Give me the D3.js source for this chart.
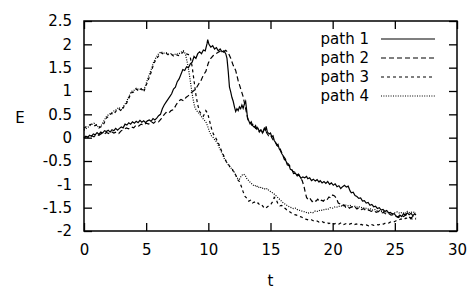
<!DOCTYPE html>
<html>
<head>
<meta charset="utf-8">
<script src="https://cdn.jsdelivr.net/npm/d3@7"></script>
<style>
  body { margin: 0; background: #fff; }
  text { font-family: "DejaVu Sans", Arial, sans-serif; }
</style>
</head>
<body>
<div id="chart"></div>
<script>
"use strict"

// data: [t, E]
const path1 = [[0,0.00],[0.15,0.03],[0.3,0.01],[0.45,0.05],[0.6,0.03],[0.75,0.08],[0.9,0.06],[1.05,0.11],[1.2,0.07],[1.35,0.12],[1.5,0.10],[1.65,0.15],[1.8,0.13],[1.95,0.16],[2.1,0.12],[2.25,0.17],[2.4,0.15],[2.55,0.20],[2.7,0.16],[2.85,0.20],[3,0.23],[3.15,0.21],[3.3,0.29],[3.45,0.27],[3.6,0.32],[3.75,0.29],[3.9,0.34],[4.05,0.31],[4.2,0.35],[4.35,0.32],[4.5,0.37],[4.65,0.33],[4.8,0.36],[4.95,0.32],[5.1,0.36],[5.25,0.38],[5.4,0.35],[5.55,0.41],[5.7,0.38],[5.85,0.42],[6,0.47],[6.15,0.50],[6.3,0.62],[6.45,0.70],[6.6,0.76],[6.75,0.82],[6.9,0.88],[7.05,0.94],[7.2,1.04],[7.35,1.08],[7.5,1.20],[7.65,1.26],[7.8,1.36],[7.95,1.46],[8.1,1.44],[8.25,1.52],[8.4,1.50],[8.55,1.58],[8.7,1.62],[8.85,1.74],[9,1.70],[9.15,1.80],[9.3,1.84],[9.45,1.80],[9.6,1.88],[9.75,1.86],[9.9,2.02],[9.95,2.10],[10.05,2.00],[10.2,1.94],[10.35,1.97],[10.5,1.90],[10.65,1.93],[10.8,1.86],[10.95,1.90],[11.1,1.84],[11.25,1.86],[11.4,1.80],[11.5,1.70],[11.6,1.42],[11.7,1.08],[11.8,0.98],[11.9,0.86],[12,0.78],[12.1,0.66],[12.2,0.56],[12.3,0.62],[12.4,0.58],[12.5,0.66],[12.6,0.62],[12.7,0.70],[12.8,0.63],[12.9,0.72],[13,0.78],[13.1,0.55],[13.15,0.42],[13.25,0.36],[13.35,0.30],[13.45,0.34],[13.55,0.26],[13.7,0.22],[13.8,0.26],[13.9,0.18],[14,0.20],[14.1,0.14],[14.25,0.16],[14.35,0.10],[14.5,0.20],[14.6,0.16],[14.65,0.24],[14.75,0.12],[14.9,0.08],[15,0.10],[15.1,0.02],[15.2,0.04],[15.3,-0.06],[15.4,-0.10],[15.5,-0.16],[15.6,-0.14],[15.7,-0.24],[15.8,-0.28],[15.9,-0.34],[16,-0.38],[16.1,-0.46],[16.25,-0.50],[16.35,-0.58],[16.5,-0.60],[16.6,-0.68],[16.75,-0.70],[16.85,-0.77],[17,-0.76],[17.15,-0.82],[17.3,-0.80],[17.45,-0.87],[17.6,-0.84],[17.75,-0.86],[17.9,-0.83],[18,-0.88],[18.15,-0.86],[18.3,-0.92],[18.45,-0.89],[18.6,-0.93],[18.75,-0.90],[18.9,-0.95],[19,-0.92],[19.15,-0.97],[19.3,-0.94],[19.45,-0.98],[19.6,-0.94],[19.75,-1.00],[19.9,-0.97],[20.05,-1.02],[20.2,-0.99],[20.35,-1.05],[20.5,-1.03],[20.65,-1.09],[20.8,-1.05],[20.95,-1.02],[21.1,-1.06],[21.25,-1.04],[21.4,-1.14],[21.5,-1.18],[21.65,-1.17],[21.8,-1.24],[21.95,-1.26],[22.1,-1.30],[22.25,-1.29],[22.4,-1.36],[22.55,-1.35],[22.7,-1.40],[22.85,-1.39],[23,-1.45],[23.15,-1.43],[23.3,-1.48],[23.45,-1.47],[23.6,-1.52],[23.75,-1.50],[23.9,-1.55],[24.05,-1.54],[24.2,-1.58],[24.35,-1.56],[24.5,-1.61],[24.65,-1.60],[24.8,-1.64],[24.95,-1.63],[25.1,-1.68],[25.25,-1.70],[25.4,-1.66],[25.55,-1.69],[25.7,-1.63],[25.85,-1.66],[26,-1.61],[26.15,-1.65],[26.3,-1.62],[26.45,-1.67],[26.6,-1.63],[26.7,-1.66]];

const path2 = [[0,0.00],[0.2,0.02],[0.4,0.00],[0.6,0.04],[0.8,0.02],[1,0.07],[1.2,0.05],[1.4,0.09],[1.6,0.07],[1.8,0.11],[2,0.09],[2.2,0.13],[2.4,0.10],[2.6,0.12],[2.8,0.09],[3,0.15],[3.2,0.17],[3.4,0.21],[3.6,0.19],[3.8,0.23],[4,0.21],[4.2,0.27],[4.4,0.25],[4.6,0.29],[4.8,0.27],[5,0.31],[5.2,0.29],[5.4,0.34],[5.6,0.31],[5.8,0.36],[6,0.34],[6.2,0.40],[6.4,0.48],[6.6,0.54],[6.8,0.52],[7,0.58],[7.2,0.60],[7.4,0.70],[7.6,0.78],[7.8,0.82],[8,0.79],[8.2,0.86],[8.4,0.90],[8.6,0.96],[8.8,1.00],[9,1.05],[9.2,1.14],[9.4,1.22],[9.6,1.34],[9.8,1.42],[10,1.60],[10.2,1.70],[10.4,1.76],[10.6,1.80],[10.8,1.83],[11,1.86],[11.2,1.83],[11.4,1.87],[11.6,1.82],[11.8,1.70],[12,1.55],[12.2,1.44],[12.4,1.22],[12.6,1.05],[12.8,0.88],[13,0.62],[13.2,0.38],[13.35,0.33],[13.5,0.27],[13.65,0.30],[13.8,0.20],[13.95,0.22],[14.1,0.12],[14.25,0.18],[14.4,0.12],[14.55,0.20],[14.7,0.10],[14.85,0.04],[15,0.06],[15.15,-0.02],[15.3,-0.08],[15.45,-0.12],[15.6,-0.20],[15.75,-0.22],[15.9,-0.32],[16.05,-0.40],[16.2,-0.46],[16.35,-0.54],[16.5,-0.58],[16.65,-0.66],[16.8,-0.72],[16.95,-0.74],[17.1,-0.80],[17.25,-0.78],[17.4,-0.86],[17.55,-0.92],[17.7,-1.05],[17.8,-1.18],[17.9,-1.28],[18.05,-1.34],[18.2,-1.31],[18.35,-1.37],[18.5,-1.33],[18.65,-1.36],[18.8,-1.32],[18.95,-1.37],[19.1,-1.34],[19.25,-1.36],[19.4,-1.31],[19.55,-1.33],[19.7,-1.27],[19.85,-1.29],[20,-1.23],[20.15,-1.25],[20.3,-1.30],[20.45,-1.40],[20.6,-1.42],[20.75,-1.46],[20.9,-1.44],[21.05,-1.49],[21.2,-1.47],[21.35,-1.51],[21.5,-1.48],[21.65,-1.51],[21.8,-1.49],[21.95,-1.53],[22.1,-1.50],[22.3,-1.54],[22.5,-1.52],[22.7,-1.57],[22.9,-1.55],[23.1,-1.58],[23.3,-1.56],[23.5,-1.60],[23.7,-1.58],[23.9,-1.62],[24.1,-1.60],[24.3,-1.64],[24.5,-1.62],[24.7,-1.66],[24.9,-1.65],[25.1,-1.69],[25.3,-1.71],[25.5,-1.67],[25.7,-1.69],[25.9,-1.65],[26.1,-1.70],[26.3,-1.72],[26.5,-1.68],[26.7,-1.73]];

const path3 = [[0,0.20],[0.2,0.24],[0.4,0.27],[0.6,0.29],[0.8,0.25],[1,0.27],[1.2,0.21],[1.4,0.24],[1.6,0.30],[1.8,0.42],[2,0.46],[2.2,0.52],[2.4,0.50],[2.6,0.58],[2.8,0.62],[3,0.57],[3.2,0.66],[3.4,0.72],[3.6,0.84],[3.8,0.96],[4,0.98],[4.2,1.04],[4.4,1.00],[4.6,1.05],[4.8,0.98],[5,1.12],[5.2,1.26],[5.4,1.40],[5.6,1.58],[5.8,1.68],[6,1.75],[6.2,1.82],[6.4,1.79],[6.6,1.81],[6.8,1.77],[7,1.79],[7.2,1.75],[7.4,1.78],[7.6,1.76],[7.8,1.79],[8,1.84],[8.2,1.80],[8.4,1.78],[8.55,1.72],[8.7,1.52],[8.85,1.22],[9,0.92],[9.15,0.70],[9.3,0.56],[9.45,0.50],[9.6,0.46],[9.8,0.58],[9.95,0.52],[10.1,0.36],[10.25,0.20],[10.4,0.08],[10.55,0.02],[10.7,-0.06],[10.85,-0.14],[11,-0.24],[11.15,-0.34],[11.3,-0.42],[11.45,-0.52],[11.6,-0.56],[11.75,-0.64],[11.9,-0.66],[12.05,-0.74],[12.2,-0.80],[12.35,-0.90],[12.5,-0.94],[12.65,-1.04],[12.8,-1.16],[12.95,-1.26],[13.1,-1.30],[13.25,-1.36],[13.4,-1.34],[13.55,-1.40],[13.7,-1.38],[13.85,-1.42],[14,-1.40],[14.15,-1.45],[14.3,-1.44],[14.45,-1.49],[14.6,-1.52],[14.75,-1.48],[14.9,-1.46],[15.05,-1.42],[15.2,-1.36],[15.3,-1.28],[15.45,-1.32],[15.6,-1.42],[15.75,-1.46],[15.9,-1.45],[16.05,-1.50],[16.2,-1.52],[16.35,-1.56],[16.5,-1.58],[16.65,-1.61],[16.8,-1.62],[16.95,-1.65],[17.1,-1.66],[17.3,-1.69],[17.5,-1.70],[17.7,-1.74],[17.9,-1.75],[18.1,-1.77],[18.3,-1.76],[18.5,-1.79],[18.7,-1.78],[18.9,-1.81],[19.1,-1.79],[19.3,-1.82],[19.5,-1.81],[19.7,-1.84],[19.9,-1.82],[20.1,-1.85],[20.3,-1.83],[20.5,-1.85],[20.7,-1.82],[20.9,-1.86],[21.1,-1.84],[21.3,-1.86],[21.5,-1.84],[21.7,-1.87],[21.9,-1.85],[22.1,-1.87],[22.3,-1.86],[22.5,-1.88],[22.7,-1.87],[22.9,-1.89],[23.1,-1.86],[23.3,-1.88],[23.5,-1.86],[23.7,-1.87],[23.9,-1.84],[24.1,-1.85],[24.3,-1.82],[24.5,-1.83],[24.7,-1.80],[24.9,-1.81],[25.1,-1.78],[25.3,-1.77],[25.5,-1.74],[25.7,-1.76],[25.9,-1.72],[26.1,-1.75],[26.3,-1.73],[26.5,-1.76],[26.7,-1.74]];

const path4 = [[0,0.16],[0.2,0.20],[0.4,0.24],[0.6,0.28],[0.8,0.31],[1,0.27],[1.2,0.22],[1.4,0.27],[1.6,0.36],[1.8,0.45],[2,0.50],[2.2,0.53],[2.4,0.57],[2.6,0.60],[2.8,0.65],[3,0.60],[3.2,0.68],[3.4,0.76],[3.6,0.88],[3.8,0.99],[4,1.01],[4.2,1.06],[4.4,1.03],[4.6,1.04],[4.8,1.01],[5,1.16],[5.2,1.32],[5.4,1.46],[5.6,1.62],[5.8,1.72],[6,1.80],[6.2,1.84],[6.4,1.81],[6.6,1.82],[6.8,1.79],[7,1.80],[7.2,1.77],[7.4,1.80],[7.6,1.79],[7.8,1.83],[8,1.86],[8.15,1.80],[8.3,1.62],[8.45,1.40],[8.6,1.12],[8.75,0.86],[8.9,0.66],[9.05,0.58],[9.2,0.54],[9.35,0.49],[9.5,0.43],[9.65,0.38],[9.8,0.34],[9.95,0.24],[10.1,0.12],[10.25,0.04],[10.4,0.00],[10.55,-0.06],[10.7,-0.10],[10.85,-0.20],[11,-0.28],[11.15,-0.36],[11.3,-0.46],[11.45,-0.52],[11.6,-0.58],[11.75,-0.62],[11.9,-0.68],[12.05,-0.72],[12.2,-0.80],[12.35,-0.87],[12.5,-0.89],[12.65,-0.82],[12.8,-0.78],[12.95,-0.80],[13.1,-0.88],[13.25,-0.92],[13.4,-0.97],[13.55,-1.00],[13.7,-1.04],[13.85,-1.02],[14,-1.07],[14.15,-1.05],[14.3,-1.09],[14.45,-1.08],[14.6,-1.11],[14.75,-1.09],[14.9,-1.14],[15.05,-1.16],[15.2,-1.19],[15.35,-1.22],[15.5,-1.26],[15.65,-1.30],[15.8,-1.34],[15.95,-1.38],[16.1,-1.41],[16.25,-1.44],[16.4,-1.46],[16.55,-1.49],[16.7,-1.50],[16.85,-1.52],[17,-1.51],[17.2,-1.55],[17.4,-1.56],[17.6,-1.58],[17.8,-1.59],[18,-1.62],[18.2,-1.60],[18.4,-1.61],[18.6,-1.57],[18.8,-1.58],[19,-1.55],[19.2,-1.56],[19.4,-1.53],[19.6,-1.54],[19.8,-1.50],[20,-1.51],[20.2,-1.48],[20.4,-1.49],[20.6,-1.46],[20.8,-1.47],[21,-1.44],[21.2,-1.46],[21.4,-1.45],[21.6,-1.48],[21.8,-1.47],[22,-1.49],[22.2,-1.48],[22.4,-1.51],[22.6,-1.50],[22.8,-1.53],[23,-1.52],[23.2,-1.55],[23.4,-1.54],[23.6,-1.57],[23.8,-1.56],[24,-1.59],[24.2,-1.58],[24.4,-1.61],[24.6,-1.60],[24.8,-1.63],[25,-1.61],[25.2,-1.59],[25.4,-1.62],[25.6,-1.60],[25.8,-1.63],[26,-1.58],[26.2,-1.61],[26.4,-1.59],[26.7,-1.61]];

const seriesNames = ["path 1", "path 2", "path 3", "path 4"];
const xTicks = [0, 5, 10, 15, 20, 25, 30];
const yTicks = [-2, -1.5, -1, -0.5, 0, 0.5, 1, 1.5, 2, 2.5];

const dashes = [null, "5,3", "3,3", "1,1.4"];
const allPaths = [path1, path2, path3, path4];

const W = 468, H = 289;
const plotL = 84, plotR = 457, plotT = 21, plotB = 231;
const fontSize = "15px";

const svg = d3.select("#chart").append("svg")
  .attr("width", W)
  .attr("height", H);

const x = d3.scaleLinear().domain([0, 30]).range([plotL, plotR]);
const y = d3.scaleLinear().domain([-2, 2.5]).range([plotB, plotT]);

// axes with inward ticks, mirrored on top and right
svg.append("g")
  .attr("transform", "translate(0," + plotB + ")")
  .call(d3.axisBottom(x).tickValues(xTicks).tickSize(-8).tickPadding(13).tickFormat(d3.format("d")));
svg.append("g")
  .attr("transform", "translate(" + plotL + ",0)")
  .call(d3.axisLeft(y).tickValues(yTicks).tickSize(-8).tickPadding(12).tickFormat(d => d));
svg.append("g")
  .attr("transform", "translate(0," + plotT + ")")
  .call(d3.axisTop(x).tickValues(xTicks).tickSize(-8).tickFormat(""));
svg.append("g")
  .attr("transform", "translate(" + plotR + ",0)")
  .call(d3.axisRight(y).tickValues(yTicks).tickSize(-8).tickFormat(""));

svg.selectAll(".domain").remove();
svg.selectAll(".tick line").attr("stroke", "#000").attr("stroke-width", 1.3);
svg.selectAll(".tick text")
  .attr("fill", "#000")
  .style("font-size", fontSize)
  .style("font-family", "'DejaVu Sans', Arial, sans-serif");

// frame
svg.append("rect")
  .attr("x", plotL).attr("y", plotT)
  .attr("width", plotR - plotL).attr("height", plotB - plotT)
  .attr("fill", "none")
  .attr("stroke", "#000")
  .attr("stroke-width", 1.5);

// axis titles
svg.append("text")
  .attr("x", 20).attr("y", 123)
  .attr("text-anchor", "middle")
  .style("font-size", fontSize)
  .text("E");
svg.append("text")
  .attr("x", x(15)).attr("y", 286)
  .attr("text-anchor", "middle")
  .style("font-size", fontSize)
  .text("t");

const line = d3.line()
  .x(d => x(d[0]))
  .y(d => y(d[1]));

allPaths.forEach(function(p, i) {
  svg.append("path")
    .datum(p)
    .attr("fill", "none")
    .attr("stroke", "#000")
    .attr("stroke-width", 1.2)
    .attr("stroke-dasharray", dashes[i])
    .attr("d", line);
});

// legend
const legend = svg.append("g");
seriesNames.forEach(function(name, i) {
  const ly = 39 + i * 19;
  legend.append("text")
    .attr("x", 369).attr("y", ly + 5)
    .attr("text-anchor", "end")
    .style("font-size", fontSize)
    .text(name);
  legend.append("line")
    .attr("x1", 381).attr("x2", 435)
    .attr("y1", ly).attr("y2", ly)
    .attr("stroke", "#000")
    .attr("stroke-width", 1.2)
    .attr("stroke-dasharray", dashes[i]);
});
</script>
</body>
</html>
